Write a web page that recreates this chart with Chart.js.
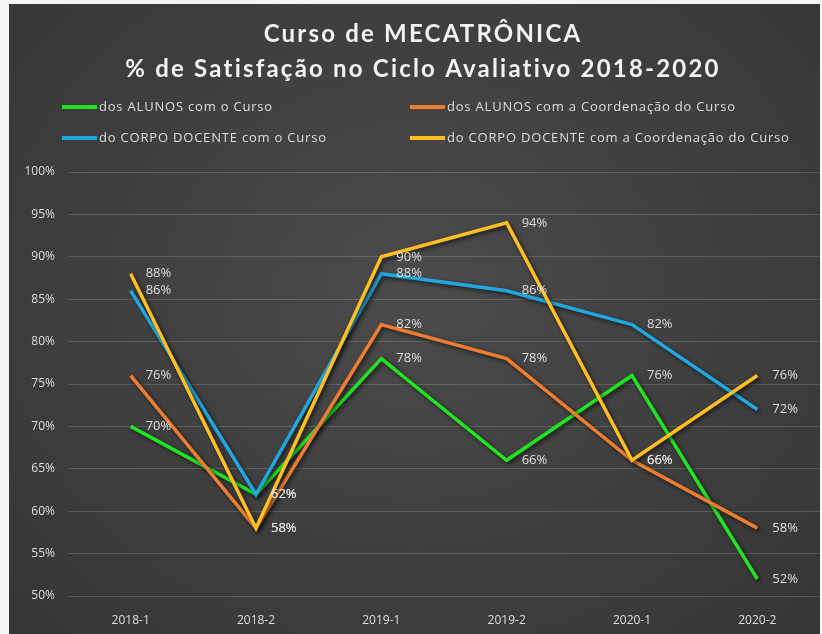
<!DOCTYPE html>
<html lang="pt">
<head>
    <meta charset="UTF-8">
    <title>Curso de MECATRÔNICA</title>
    <script src="https://cdn.jsdelivr.net/npm/chart.js"></script>
    <style>
        html, body {
            margin: 0;
            padding: 0;
            background: #f4f4f4;
            width: 822px;
            height: 634px;
            overflow: hidden;
        }
        .panel {
            position: absolute;
            left: 9px;
            top: 4px;
            width: 811px;
            height: 630px;
            background: radial-gradient(ellipse at 50% 45%, #4b4b4b 0%, #414141 45%, #353535 100%);
        }
        canvas {
            display: block;
        }
    </style>
</head>
<body>
    <div class="panel">
        <canvas id="chart" width="811" height="630"></canvas>
    </div>

    <script>
        // data
        const titleLines = ['Curso de MECATRÔNICA', '% de Satisfação no Ciclo Avaliativo 2018-2020'];
        const periods = ['2018-1', '2018-2', '2019-1', '2019-2', '2020-1', '2020-2'];
        const seriesNames = [
            'dos ALUNOS com o Curso',
            'dos ALUNOS com a Coordenação do Curso',
            'do CORPO DOCENTE com o Curso',
            'do CORPO DOCENTE com a Coordenação do Curso'
        ];
        const alunosCurso = [70, 62, 78, 66, 76, 52];
        const alunosCoord = [76, 58, 82, 78, 66, 58];
        const docenteCurso = [86, 62, 88, 86, 82, 72];
        const docenteCoord = [88, 58, 90, 94, 66, 76];
        const seriesColors = ['#22e322', '#ed7d31', '#22a6e0', '#fdbf22'];

        const textColor = '#dedede';
        const allSeries = [alunosCurso, alunosCoord, docenteCurso, docenteCoord];

        // title + 2x2 legend drawn in the space above the plot
        const headerPlugin = {
            id: 'header',
            afterDraw(chart) {
                const ctx = chart.ctx;
                ctx.save();
                ctx.fillStyle = '#f2f2f2';
                ctx.textAlign = 'center';
                ctx.textBaseline = 'middle';
                ctx.font = 'bold 24px Lato';
                ctx.letterSpacing = '2.2px';
                ctx.fillText(titleLines[0], 414, 30);
                ctx.fillText(titleLines[1], 414, 65);

                const cols = [53, 401];
                const rows = [103, 134];
                ctx.font = '13px "Open Sans"';
                ctx.letterSpacing = '0.8px';
                ctx.textAlign = 'left';
                seriesNames.forEach((name, i) => {
                    const x = cols[i % 2];
                    const y = rows[Math.floor(i / 2)];
                    ctx.strokeStyle = seriesColors[i];
                    ctx.lineWidth = 4;
                    ctx.beginPath();
                    ctx.moveTo(x, y);
                    ctx.lineTo(x + 35, y);
                    ctx.stroke();
                    ctx.fillStyle = textColor;
                    ctx.fillText(name, x + 37, y);
                });
                ctx.restore();
            }
        };

        // dark drop shadow under each line, like the original
        const shadowPlugin = {
            id: 'lineShadow',
            beforeDatasetDraw(chart) {
                const ctx = chart.ctx;
                ctx.save();
                ctx.shadowColor = 'rgba(0,0,0,0.65)';
                ctx.shadowBlur = 4;
                ctx.shadowOffsetX = 2;
                ctx.shadowOffsetY = 2;
            },
            afterDatasetDraw(chart) {
                chart.ctx.restore();
            }
        };

        // value labels to the right of each point
        const labelPlugin = {
            id: 'valueLabels',
            afterDatasetsDraw(chart) {
                const ctx = chart.ctx;
                ctx.save();
                ctx.font = '13px "Open Sans"';
                ctx.fillStyle = textColor;
                ctx.textAlign = 'left';
                ctx.textBaseline = 'middle';
                chart.data.datasets.forEach((ds, i) => {
                    const meta = chart.getDatasetMeta(i);
                    meta.data.forEach((pt, j) => {
                        ctx.fillText(ds.data[j] + '%', pt.x + 15, pt.y);
                    });
                });
                ctx.restore();
            }
        };

        const ctx = document.getElementById('chart').getContext('2d');
        new Chart(ctx, {
            type: 'line',
            data: {
                labels: periods,
                datasets: allSeries.map((values, i) => ({
                    label: seriesNames[i],
                    data: values,
                    borderColor: seriesColors[i],
                    backgroundColor: seriesColors[i],
                    borderWidth: 3.5,
                    pointRadius: 0,
                    tension: 0,
                    fill: false,
                    order: 4 - i
                }))
            },
            options: {
                responsive: false,
                animation: false,
                layout: {
                    padding: { top: 168, right: 0, bottom: 0, left: 0 }
                },
                plugins: {
                    legend: { display: false },
                    title: { display: false },
                    tooltip: { enabled: false }
                },
                scales: {
                    x: {
                        offset: true,
                        grid: { display: false, drawTicks: false },
                        border: { display: false },
                        ticks: {
                            color: textColor,
                            font: { family: 'Open Sans', size: 12 },
                            padding: 17
                        },
                        afterFit(scale) { scale.height = 38; }
                    },
                    y: {
                        min: 50,
                        max: 100,
                        grid: {
                            color: 'rgba(255,255,255,0.16)',
                            lineWidth: 1,
                            drawTicks: false
                        },
                        border: { display: false },
                        ticks: {
                            stepSize: 5,
                            color: textColor,
                            font: { family: 'Open Sans', size: 12 },
                            padding: 13,
                            callback: v => v + '%'
                        },
                        afterFit(scale) { scale.width = 59; }
                    }
                }
            },
            plugins: [shadowPlugin, labelPlugin, headerPlugin]
        });
    </script>
</body>
</html>
